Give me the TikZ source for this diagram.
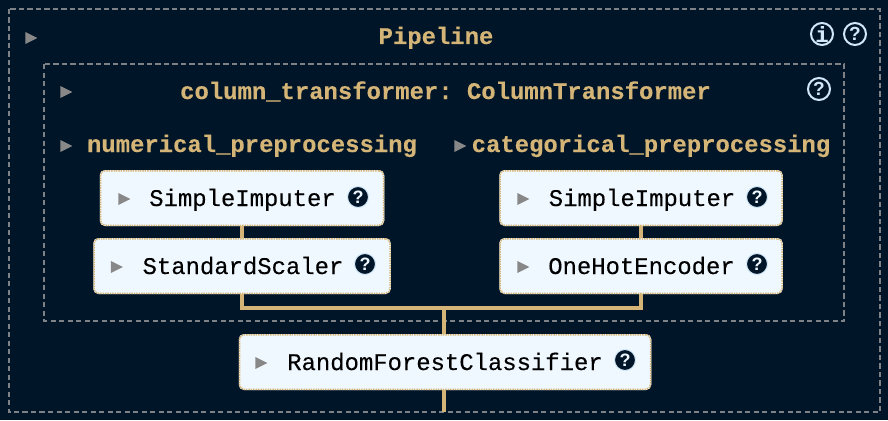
\documentclass[tikz,border=0pt]{standalone}
\usepackage{fontspec}
\setmainfont{Liberation Sans}
\setmonofont[FakeBold=0.25]{Liberation Mono}
\usetikzlibrary{shapes.geometric}
\definecolor{pagebg}{HTML}{001528}
\definecolor{gold}{HTML}{D4B577}
\definecolor{boxfill}{HTML}{F0F8FF}
\definecolor{frameline}{HTML}{7E8286}
\definecolor{marker}{HTML}{888888}
\definecolor{halo}{HTML}{D2E8F8}
\tikzset{
  frame/.style={draw=frameline, line width=1.5pt, dash pattern=on 5.3pt off 3.2pt},
  stepbox/.style={draw=gold, fill=boxfill, line width=1.5pt, dash pattern=on 1.5pt off 0.9pt,
    preaction={draw=boxfill, solid}, rounded corners=4.5pt, minimum height=54.5pt, inner sep=0pt},
  wire/.style={draw=gold, line width=4pt},
  heading/.style={text=gold, anchor=base, inner sep=0pt, font=\ttfamily\bfseries\fontsize{23.9}{24}\selectfont},
  steplabel/.style={text=black, anchor=base, inner sep=0pt, font=\ttfamily\fontsize{23.9}{24}\selectfont},
  marker/.style={isosceles triangle, isosceles triangle stretches, fill=marker, inner sep=0pt, minimum height=12pt, minimum width=12pt},
  helpdark/.style={circle, draw=halo, line width=1pt, fill=pagebg, text=boxfill, minimum size=21pt, inner sep=0pt, font=\bfseries\fontsize{18}{18}\selectfont},
  helpline/.style={circle, draw=halo, line width=2pt, text=halo, minimum size=22pt, inner sep=0pt, font=\bfseries\fontsize{19}{19}\selectfont},
}
\begin{document}
\begin{tikzpicture}[x=1pt,y=-1pt]
    \useasboundingbox (0,0) rectangle (888,420);
    \fill[pagebg] (0,0) rectangle (888,420);
    \draw[frame] (9,9) rectangle (880,412);
    \draw[frame] (44,64) rectangle (844,321);

    \node[heading] (pipe) at (436,44) {Pipeline};
    \node[heading] (coltr) at (445.5,99) {column\_transformer: ColumnTransformer};
    \node[heading] (numer) at (252,152) {numerical\_preprocessing};
    \node[heading] (categ) at (651,152) {categorical\_preprocessing};

    \node[marker] (mpipe) at (29,38) {};
    \node[marker] (mcoltr) at (64,92) {};
    \node[marker] (mnumer) at (64,146) {};
    \node[marker] (mcateg) at (458,146) {};

    \node[helpline, font=\ttfamily\bfseries\fontsize{22}{22}\selectfont] (info) at (822,34) {i};
    \node[helpline] (hpipe) at (855,34) {?};
    \node[helpline] (hcoltr) at (819,89) {?};

    \node[stepbox, minimum width=283pt] (impn) at (242,198) {};
    \node[stepbox, minimum width=296pt] (scal) at (242,266) {};
    \node[stepbox, minimum width=282pt] (impc) at (641,198) {};
    \node[stepbox, minimum width=282pt] (oneh) at (641,266) {};
    \node[stepbox, minimum width=411pt] (rfc) at (445,362) {};

    \node[steplabel] (limpn) at (242.5,206) {SimpleImputer};
    \node[steplabel] (lscal) at (243,274) {StandardScaler};
    \node[steplabel] (limpc) at (642,206) {SimpleImputer};
    \node[steplabel] (loneh) at (641.5,274) {OneHotEncoder};
    \node[steplabel] (lrfc) at (445,370) {RandomForestClassifier};

    \node[marker] (mimpn) at (122,199) {};
    \node[marker] (mscal) at (114.5,267) {};
    \node[marker] (mimpc) at (521,199) {};
    \node[marker] (moneh) at (521,267) {};
    \node[marker] (mrfc) at (259,363) {};

    \node[helpdark] (himpn) at (358,197) {?};
    \node[helpdark] (hscal) at (365,264) {?};
    \node[helpdark] (himpc) at (757,197) {?};
    \node[helpdark] (honeh) at (757,264) {?};
    \node[helpdark] (hrfc) at (625,360) {?};

    \coordinate (bus) at (444,308);
    \coordinate (tail) at (444,412);

    \draw[wire] (impn.south) -- (scal.north);
    \draw[wire] (impc.south) -- (oneh.north);
    \draw[wire] (scal.south) |- (bus);
    \draw[wire] (oneh.south) |- (bus);
    \draw[wire] (bus) -- (bus |- rfc.north);
    \draw[wire] (bus |- rfc.south) -- (tail);
  \end{tikzpicture}
\end{document}
